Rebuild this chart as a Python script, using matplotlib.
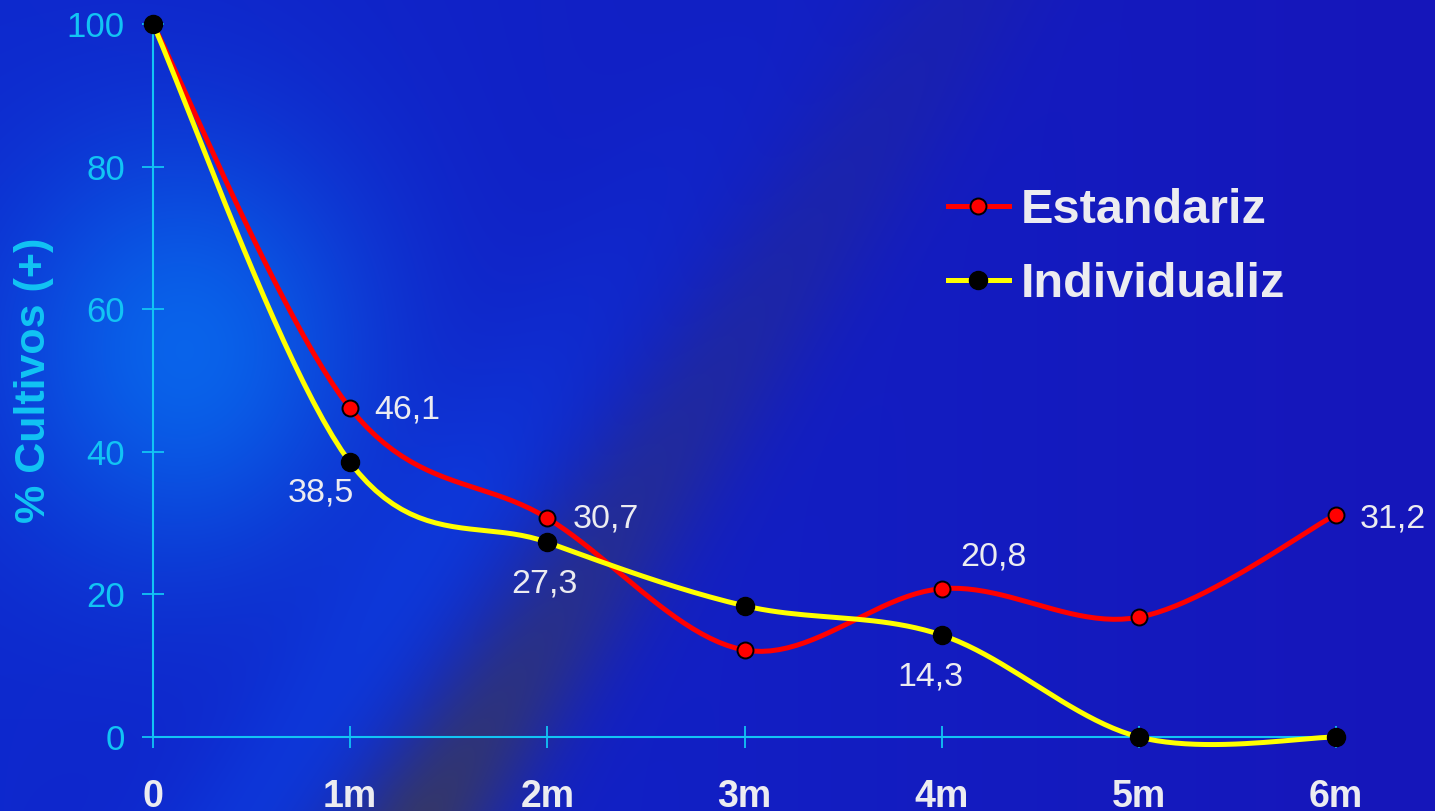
import numpy as np
import matplotlib.pyplot as plt
from matplotlib.lines import Line2D

# Data
months = [0, 1, 2, 3, 4, 5, 6]
month_labels = ['0', '1m', '2m', '3m', '4m', '5m', '6m']
estandariz = [100, 46.1, 30.7, 12.2, 20.8, 16.8, 31.2]
individualiz = [100, 38.5, 27.3, 18.4, 14.3, 0, 0]
est_labelled = [1, 2, 4, 6]
ind_labelled = [1, 2, 4]

W, H = 1435, 811
CYAN = '#12c4f4'
WHITE = '#ececf0'


def smooth(xs, ys, sx, sy, n=24):
    # Catmull-Rom style bezier through the points, computed in screen-like units
    P = np.column_stack([np.asarray(xs, float) * sx, np.asarray(ys, float) * sy])
    out = []
    t = np.linspace(0, 1, n)[:, None]
    for i in range(len(P) - 1):
        p0 = P[max(i - 1, 0)]
        p1 = P[i]
        p2 = P[i + 1]
        p3 = P[min(i + 2, len(P) - 1)]
        c1 = p1 + (p2 - p0) / 6
        c2 = p2 - (p3 - p1) / 6
        seg = ((1 - t) ** 3 * p1 + 3 * (1 - t) ** 2 * t * c1
               + 3 * (1 - t) * t ** 2 * c2 + t ** 3 * p2)
        out.append(seg if i == 0 else seg[1:])
    out = np.vstack(out)
    return out[:, 0] / sx, out[:, 1] / sy


# Background: blue with a light glow and a dark diagonal band
yy, xx = np.mgrid[0:H, 0:W].astype(float)
fx = (xx / W)[..., None]
left = np.array([14, 40, 205]) / 255
right = np.array([22, 22, 186]) / 255
img = left * (1 - fx) + right * fx

glow = np.exp(-(((xx - 185) / 185) ** 2 + ((yy - 350) / 210) ** 2))[..., None]
img = img * (1 - 0.85 * glow) + np.array([8, 110, 240]) / 255 * 0.85 * glow

t_perp = (xx - 430) * 0.835 + (yy - 811) * 0.55
s_along = (xx - 430) * 0.55 - (yy - 811) * 0.835
ridge = (0.45 * np.exp(-((t_perp + 140) / 85) ** 2)
         * np.exp(-np.clip(s_along - 300, 0, None) / 250))[..., None]
img = img * (1 - ridge) + np.array([10, 75, 235]) / 255 * ridge
band = (0.85 * np.exp(-(t_perp / 70) ** 2)
        * np.exp(-np.clip(s_along, 0, None) / 520))[..., None]
img = img * (1 - band) + np.array([58, 58, 92]) / 255 * band

fig = plt.figure(figsize=(W / 100, H / 100), dpi=100)
bg = fig.add_axes([0, 0, 1, 1])
bg.imshow(np.clip(img, 0, 1), extent=(0, W, H, 0), aspect='auto')
bg.set_xlim(0, W)
bg.set_ylim(H, 0)
bg.axis('off')

ax = fig.add_axes([153 / W, 1 - 737 / H, (1336 - 153) / W, (737 - 24) / H])
ax.patch.set_alpha(0)
ax.set_xlim(0, 6)
ax.set_ylim(0, 100)

sx, sy = 197.0, 7.13
ex, ey = smooth(months, estandariz, sx, sy)
ix, iy = smooth(months, individualiz, sx, sy)
ax.plot(ex, ey, color='#ff0000', lw=3.6, clip_on=False, zorder=3, solid_capstyle='round')
ax.plot(ix, iy, color='#ffff00', lw=3.6, clip_on=False, zorder=4, solid_capstyle='round')
ax.plot(months, estandariz, 'o', color='#ff0000', mec='black', mew=1.4, ms=11.5,
        clip_on=False, zorder=5)
ax.plot(months, individualiz, 'o', color='black', ms=13, clip_on=False, zorder=6)

# Value labels
fmt = lambda v: f'{v:.1f}'.replace('.', ',')
est_offsets = {1: ((17, -1), 'left'), 2: ((18, -1), 'left'),
               4: ((37, 23), 'center'), 6: ((17, -3), 'left')}
ind_offsets = {1: ((-21, -22), 'center'), 2: ((-2, -30), 'center'),
               4: ((-8, -30), 'center')}
for i in est_labelled:
    off, ha = est_offsets[i]
    ax.annotate(fmt(estandariz[i]), (months[i], estandariz[i]), xytext=off,
                textcoords='offset points', ha=ha, va='center', color=WHITE,
                fontsize=24.5, family='Liberation Sans', zorder=7)
for i in ind_labelled:
    off, ha = ind_offsets[i]
    ax.annotate(fmt(individualiz[i]), (months[i], individualiz[i]), xytext=off,
                textcoords='offset points', ha=ha, va='center', color=WHITE,
                fontsize=24.5, family='Liberation Sans', zorder=7)

# Axes styling
for side in ['top', 'right']:
    ax.spines[side].set_visible(False)
for side in ['left', 'bottom']:
    ax.spines[side].set_color(CYAN)
    ax.spines[side].set_linewidth(1.5)
ax.set_xticks(months)
ax.set_xticklabels(month_labels, fontsize=27, fontweight='bold', color=WHITE,
                   family='Liberation Sans')
ax.set_yticks(range(0, 101, 20))
ax.set_yticklabels([str(v) for v in range(0, 101, 20)], fontsize=25, color=CYAN,
                   family='Liberation Sans')
ax.tick_params(axis='both', direction='inout', length=16.5, width=1.3, color=CYAN)
ax.tick_params(axis='x', pad=22)
ax.tick_params(axis='y', pad=12)

fig.text(34 / W, 1 - 380 / H, '% Cultivos (+)', rotation=90, ha='center', va='center',
         color=CYAN, fontsize=31, fontweight='bold', family='Liberation Sans')

handles = [
    Line2D([], [], color='#ff0000', lw=3.6, marker='o', mfc='#ff0000', mec='black',
           mew=1.4, ms=11.5),
    Line2D([], [], color='#ffff00', lw=3.6, marker='o', mfc='black', mec='black', ms=13),
]
ax.legend(handles, ['Estandariz', 'Individualiz'], loc='upper left',
          bbox_to_anchor=(948 / W, 1 - 188 / H), bbox_transform=fig.transFigure,
          frameon=False, prop={'family': 'Liberation Sans', 'weight': 'bold', 'size': 35},
          labelcolor=WHITE, handlelength=1.25, handletextpad=0.25, labelspacing=0.6,
          borderpad=0, borderaxespad=0)

fig.savefig('out.png', dpi=100)
